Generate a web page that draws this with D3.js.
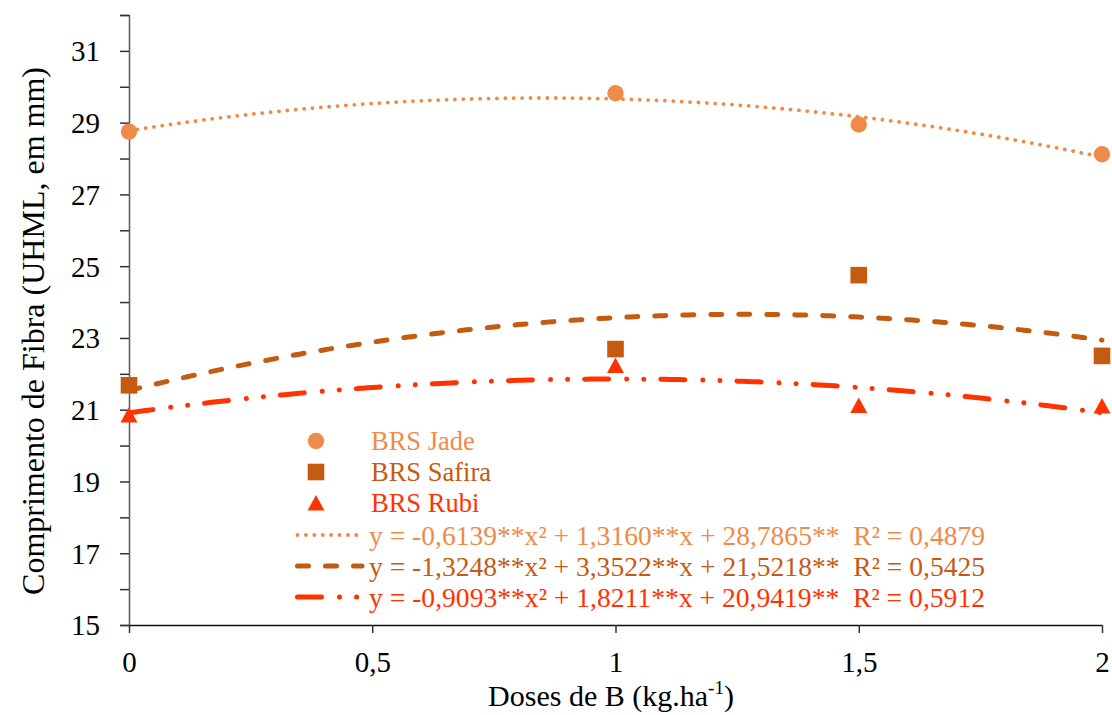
<!DOCTYPE html>
<html>
<head>
<meta charset="utf-8">
<script src="https://cdn.jsdelivr.net/npm/d3@7"></script>
<style>
  body { margin: 0; background: #fff; }
  svg { display: block; }
</style>
</head>
<body>
<svg id="chart" width="1112" height="715"></svg>
<script>
// doses (x values) and fibre length per cultivar
var doses = [0, 1, 1.5, 2];
var jade   = [28.75, 29.82, 28.95, 28.12];
var safira = [21.68, 22.69, 24.75, 22.50];
var rubi   = [20.85, 22.23, 21.12, 21.10];

var series_names = ["BRS Jade", "BRS Safira", "BRS Rubi"];
var equations = [
    "y = -0,6139**x\u00b2 + 1,3160**x + 28,7865**  R\u00b2 = 0,4879",
    "y = -1,3248**x\u00b2 + 3,3522**x + 21,5218**  R\u00b2 = 0,5425",
    "y = -0,9093**x\u00b2 + 1,8211**x + 20,9419**  R\u00b2 = 0,5912"
];
var x_ticks = [0, 0.5, 1, 1.5, 2];
var y_labels = [15, 17, 19, 21, 23, 25, 27, 29, 31];

var colors = ["#EE8B48", "#C55A11", "#FF3300"];
var dashes = ["0.1 8.3", "11 17", "24 18 0.1 17 0.1 17"];
var widths = [3.8, 5, 5];
var FONT = "'Liberation Serif', 'Times New Roman', serif";

var svg = d3.select("#chart"),
    x = d3.scaleLinear().domain([0, 2]).range([129, 1102]),
    y = d3.scaleLinear().domain([15, 32]).range([625, 15]),
    fmt = d => String(d).replace(".", ",")
;

// excel style polynomial trendline (order 2, least squares)
function quad_fit(xs, ys) {
    var s = [0, 0, 0, 0, 0], t = [0, 0, 0];
    xs.forEach(function(xv, i) {
        for (var k = 0; k < 5; k++) s[k] += Math.pow(xv, k);
        for (var k = 0; k < 3; k++) t[k] += Math.pow(xv, k) * ys[i];
    });
    var m = [
        [s[0], s[1], s[2], t[0]],
        [s[1], s[2], s[3], t[1]],
        [s[2], s[3], s[4], t[2]]
    ];
    for (var c = 0; c < 3; c++) {
        for (var r = c + 1; r < 3; r++) {
            var f = m[r][c] / m[c][c];
            for (var k = c; k < 4; k++) m[r][k] -= f * m[c][k];
        }
    }
    var b = [0, 0, 0];
    for (var r = 2; r >= 0; r--) {
        var v = m[r][3];
        for (var k = r + 1; k < 3; k++) v -= m[r][k] * b[k];
        b[r] = v / m[r][r];
    }
    return xv => b[0] + b[1] * xv + b[2] * xv * xv;
}

var all_series = [jade, safira, rubi];

// axes
var yAxis = svg.append("g")
    .attr("transform", "translate(129,0)")
    .call(d3.axisLeft(y).tickValues(d3.range(15, 33)).tickSize(9).tickPadding(20)
        .tickFormat(d => y_labels.indexOf(d) >= 0 ? d : ""));
yAxis.select(".domain").attr("stroke", "#595959").attr("stroke-width", 1.5);
yAxis.selectAll(".tick line").attr("stroke", "#333").attr("stroke-width", 1.5);
yAxis.selectAll("text").style("font-family", FONT).style("font-size", "29px")
    .attr("fill", "#000").attr("dy", "0.34em");

var xAxis = svg.append("g")
    .attr("transform", "translate(0,625)")
    .call(d3.axisBottom(x).tickValues(x_ticks).tickSize(8).tickSizeOuter(0).tickPadding(18)
        .tickFormat(fmt));
xAxis.select(".domain").attr("stroke", "#111").attr("stroke-width", 1.5);
xAxis.selectAll(".tick line").attr("stroke", "#333").attr("stroke-width", 1.5);
xAxis.selectAll("text").style("font-family", FONT).style("font-size", "29px").attr("fill", "#000");

// axis titles
svg.append("text")
    .attr("transform", "translate(44,331) rotate(-90)")
    .attr("text-anchor", "middle")
    .style("font-family", FONT).style("font-size", "32px")
    .text("Comprimento de Fibra (UHML, em mm)");

var xt = svg.append("text")
    .attr("x", 611).attr("y", 706)
    .attr("text-anchor", "middle")
    .style("font-family", FONT).style("font-size", "30px");
xt.append("tspan").text("Doses de B (kg.ha");
xt.append("tspan").style("font-size", "19px").attr("dy", -12).text("-1");
xt.append("tspan").attr("dy", 12).text(")");

// trendlines
var line = d3.line().x(d => x(d[0])).y(d => y(d[1]));
all_series.forEach(function(vals, i) {
    var f = quad_fit(doses, vals),
        pts = d3.range(0, 201).map(k => [k / 100, f(k / 100)]);
    svg.append("path")
        .attr("d", line(pts))
        .attr("fill", "none")
        .attr("stroke", colors[i])
        .attr("stroke-width", widths[i])
        .attr("stroke-linecap", "round")
        .attr("stroke-dasharray", dashes[i]);
});

// markers
function marker(g, kind, cx, cy, color) {
    if (kind == 0) {
        g.append("circle").attr("cx", cx).attr("cy", cy).attr("r", 8.2).attr("fill", color);
    } else if (kind == 1) {
        g.append("rect").attr("x", cx - 8.3).attr("y", cy - 8.3)
            .attr("width", 16.6).attr("height", 16.6).attr("fill", color);
    } else {
        g.append("path")
            .attr("d", "M" + cx + "," + (cy - 8) + "L" + (cx + 8.5) + "," + (cy + 7.5) +
                "L" + (cx - 8.5) + "," + (cy + 7.5) + "Z")
            .attr("fill", color);
    }
}

var marks = svg.append("g");
all_series.forEach(function(vals, i) {
    vals.forEach(function(v, j) {
        marker(marks, i, x(doses[j]), y(v), colors[i]);
    });
});

// legend
var legend = svg.append("g");
var rows = [441, 472, 503];
series_names.forEach(function(name, i) {
    marker(legend, i, 316, rows[i], colors[i]);
    legend.append("text")
        .attr("x", 371).attr("y", rows[i] + 9)
        .style("font-family", FONT).style("font-size", "26.5px")
        .attr("fill", colors[i])
        .text(name);
});
var eq_rows = [535, 566, 597];
equations.forEach(function(eq, i) {
    legend.append("line")
        .attr("x1", 297.5).attr("x2", 362)
        .attr("y1", eq_rows[i]).attr("y2", eq_rows[i])
        .attr("stroke", colors[i])
        .attr("stroke-width", widths[i])
        .attr("stroke-linecap", "round")
        .attr("stroke-dasharray", dashes[i]);
    legend.append("text")
        .attr("x", 369).attr("y", eq_rows[i] + 9.5)
        .attr("textLength", 616)
        .attr("lengthAdjust", "spacingAndGlyphs")
        .style("font-family", FONT).style("font-size", "27px")
        .style("white-space", "pre")
        .attr("fill", colors[i])
        .text(eq);
});
</script>
</body>
</html>
